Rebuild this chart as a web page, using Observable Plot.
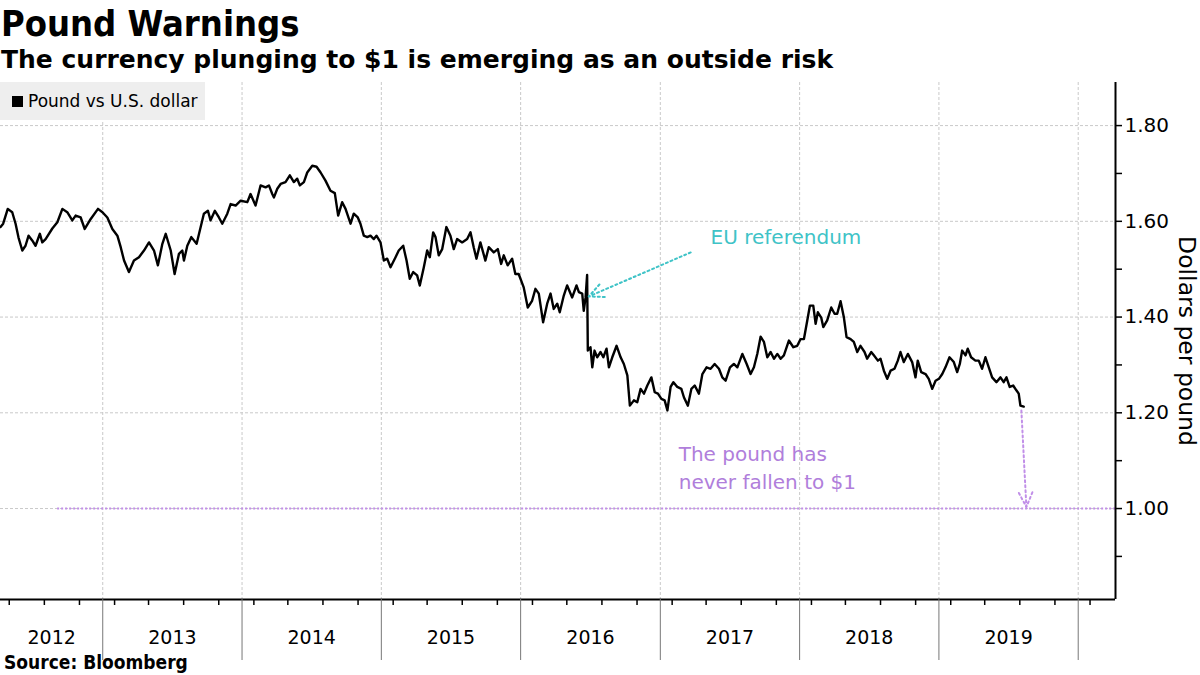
<!DOCTYPE html>
<html><head><meta charset="utf-8">
<script src="https://cdn.jsdelivr.net/npm/d3@7"></script>
<script src="https://cdn.jsdelivr.net/npm/@observablehq/plot@0.6"></script>
<style>
html,body{margin:0;padding:0;background:#fff}
body{width:1200px;height:675px;overflow:hidden;position:relative;font-family:"DejaVu Sans",sans-serif;color:#000}
#title{position:absolute;left:1px;top:6px;font-weight:bold;font-size:36px;line-height:36px;font-family:"DejaVu Sans Condensed","DejaVu Sans",sans-serif;font-stretch:condensed;white-space:nowrap}
#subtitle{position:absolute;left:1px;top:47px;font-weight:bold;font-size:25px;line-height:25px;font-family:"DejaVu Sans",sans-serif;white-space:nowrap}
#chart{position:absolute;left:0;top:78px}
#legend{position:absolute;left:0;top:82px;width:205px;height:38px;background:#eeeeee;font-size:17px;line-height:38px;white-space:nowrap}
#legend .sw{position:absolute;left:12px;top:14px;width:11px;height:11px;background:#000}
#legend .lb{position:absolute;left:28px;top:0}
#source{position:absolute;left:4px;top:653px;font-weight:bold;font-size:19px;line-height:19px;font-family:"DejaVu Sans Condensed","DejaVu Sans",sans-serif;font-stretch:condensed;white-space:nowrap}
</style></head>
<body>
<div id="title">Pound Warnings</div>
<div id="subtitle">The currency plunging to $1 is emerging as an outside risk</div>
<div id="chart"></div>
<div id="legend"><div class="sw"></div><div class="lb">Pound vs U.S. dollar</div></div>
<div id="source">Source: Bloomberg</div>
<script>
// ---- data (decimal year, dollars per pound) ----
const tYears = [
2012.268,2012.287,2012.320,2012.352,2012.376,2012.397,2012.424,2012.447,2012.469,2012.495,
2012.519,2012.550,2012.567,2012.591,2012.639,2012.675,2012.711,2012.746,2012.782,2012.806,
2012.842,2012.871,2012.914,2012.966,2012.998,2013.033,2013.069,2013.105,2013.129,2013.153,
2013.188,2013.224,2013.260,2013.296,2013.332,2013.368,2013.396,2013.428,2013.452,2013.488,
2013.516,2013.547,2013.571,2013.583,2013.607,2013.636,2013.674,2013.703,2013.726,2013.755,
2013.774,2013.805,2013.834,2013.858,2013.894,2013.918,2013.954,2013.990,2014.038,2014.061,
2014.097,2014.133,2014.169,2014.193,2014.217,2014.229,2014.253,2014.277,2014.312,2014.343,
2014.372,2014.396,2014.415,2014.444,2014.468,2014.504,2014.535,2014.564,2014.599,2014.635,
2014.666,2014.690,2014.719,2014.743,2014.779,2014.802,2014.831,2014.850,2014.874,2014.899,
2014.922,2014.946,2014.965,2014.994,2015.018,2015.042,2015.066,2015.102,2015.125,2015.157,
2015.181,2015.204,2015.229,2015.257,2015.276,2015.305,2015.329,2015.348,2015.372,2015.389,
2015.412,2015.437,2015.467,2015.496,2015.520,2015.544,2015.580,2015.616,2015.640,2015.663,
2015.683,2015.711,2015.747,2015.771,2015.807,2015.836,2015.860,2015.879,2015.907,2015.939,
2015.962,2015.986,2016.022,2016.051,2016.082,2016.106,2016.130,2016.161,2016.190,2016.214,
2016.237,2016.262,2016.280,2016.309,2016.333,2016.369,2016.400,2016.417,2016.441,2016.452,
2016.465,2016.476,2016.481,2016.500,2016.513,2016.529,2016.548,2016.572,2016.592,2016.615,
2016.632,2016.656,2016.687,2016.716,2016.739,2016.764,2016.782,2016.811,2016.835,2016.859,
2016.883,2016.907,2016.936,2016.960,2016.983,2017.008,2017.031,2017.051,2017.074,2017.094,
2017.122,2017.151,2017.170,2017.198,2017.223,2017.247,2017.277,2017.302,2017.332,2017.361,
2017.390,2017.421,2017.445,2017.469,2017.500,2017.528,2017.553,2017.589,2017.620,2017.648,
2017.672,2017.696,2017.720,2017.744,2017.768,2017.792,2017.816,2017.840,2017.864,2017.887,
2017.923,2017.955,2017.983,2018.007,2018.031,2018.055,2018.074,2018.098,2018.115,2018.131,
2018.155,2018.170,2018.198,2018.227,2018.251,2018.270,2018.294,2018.318,2018.337,2018.366,
2018.389,2018.414,2018.437,2018.466,2018.485,2018.514,2018.533,2018.562,2018.581,2018.605,
2018.629,2018.653,2018.681,2018.705,2018.724,2018.748,2018.777,2018.808,2018.832,2018.848,
2018.873,2018.904,2018.927,2018.952,2018.976,2019.000,2019.024,2019.047,2019.076,2019.107,
2019.131,2019.150,2019.167,2019.191,2019.207,2019.231,2019.262,2019.286,2019.310,2019.334,
2019.358,2019.382,2019.413,2019.442,2019.465,2019.485,2019.508,2019.533,2019.556,2019.573,
2019.585,2019.609
];
const gbpUsd = [
1.588,1.595,1.626,1.619,1.595,1.566,1.539,1.549,1.570,1.560,
1.549,1.574,1.556,1.563,1.585,1.598,1.626,1.619,1.602,1.612,
1.608,1.584,1.605,1.626,1.619,1.608,1.584,1.570,1.546,1.518,
1.494,1.518,1.525,1.539,1.556,1.539,1.508,1.553,1.574,1.539,
1.490,1.532,1.539,1.518,1.549,1.567,1.553,1.588,1.616,1.622,
1.602,1.622,1.608,1.595,1.616,1.636,1.633,1.643,1.640,1.657,
1.633,1.675,1.671,1.675,1.657,1.650,1.668,1.678,1.682,1.696,
1.682,1.689,1.675,1.682,1.702,1.716,1.714,1.702,1.685,1.664,
1.659,1.612,1.640,1.626,1.595,1.616,1.608,1.595,1.570,1.567,
1.570,1.563,1.570,1.556,1.518,1.522,1.504,1.525,1.539,1.549,
1.518,1.480,1.494,1.487,1.466,1.504,1.539,1.525,1.577,1.567,
1.529,1.542,1.588,1.570,1.542,1.563,1.556,1.563,1.577,1.546,
1.522,1.556,1.518,1.546,1.535,1.542,1.511,1.529,1.508,1.522,
1.490,1.490,1.462,1.420,1.434,1.459,1.449,1.389,1.428,1.449,
1.417,1.428,1.410,1.445,1.466,1.441,1.466,1.452,1.449,1.413,
1.441,1.488,1.330,1.337,1.295,1.330,1.316,1.327,1.316,1.334,
1.295,1.316,1.340,1.316,1.302,1.278,1.215,1.226,1.222,1.250,
1.240,1.257,1.274,1.243,1.240,1.229,1.226,1.205,1.254,1.264,
1.254,1.250,1.232,1.215,1.250,1.257,1.240,1.281,1.295,1.292,
1.302,1.292,1.274,1.267,1.295,1.302,1.295,1.323,1.302,1.281,
1.295,1.323,1.359,1.348,1.316,1.327,1.313,1.323,1.313,1.320,
1.351,1.337,1.340,1.354,1.354,1.393,1.424,1.424,1.386,1.410,
1.399,1.379,1.393,1.420,1.407,1.407,1.433,1.399,1.358,1.354,
1.348,1.327,1.340,1.327,1.313,1.327,1.320,1.309,1.313,1.288,
1.271,1.288,1.292,1.309,1.327,1.306,1.323,1.306,1.274,1.309,
1.285,1.281,1.271,1.250,1.267,1.271,1.281,1.295,1.316,1.306,
1.285,1.302,1.330,1.320,1.334,1.316,1.309,1.309,1.292,1.316,
1.295,1.274,1.264,1.274,1.264,1.274,1.254,1.257,1.247,1.240,
1.215,1.213
];
const yearLabels = [2012,2013,2014,2015,2016,2017,2018,2019];
const yTickLabels = [1.00,1.20,1.40,1.60,1.80];
const yMinorTicks = [0.90,1.10,1.30,1.50,1.70];
const xDomainYears = [2012.268, 2020.267];
const yDomain = [0.81, 1.89];
// annotations (decimal year, value)
const euText = {t: 2017.361, v: 1.566, label: "EU referendum"};
const euArrow = {t1: 2017.218, v1: 1.535, t2: 2016.488, v2: 1.443};
const parityText = {t: 2017.132, v: 1.088, label: "The pound has\nnever fallen to $1"};
const parityArrow = {t1: 2019.592, v1: 1.205, t2: 2019.628, v2: 1.003};
const parityLine = {t1: 2012.677, v: 1.00};

// ---- helpers ----
function yd(t){const y=Math.floor(t);const s=Date.UTC(y,0,1),e=Date.UTC(y+1,0,1);return new Date(s+(t-y)*(e-s));}
const series = tYears.map((t,i)=>({date: yd(t), value: gbpUsd[i]}));
const x0 = yd(xDomainYears[0]), x1 = yd(xDomainYears[1]);
const yearStarts = d3.utcYears(x0, x1).filter(d=>d>x0);
const quarterTicks = d3.utcMonths(x0, x1, 3).filter(d=>d.getUTCMonth()!==0 && d>x0);
const labelPos = yearLabels.map(y=>{
  const a = new Date(Math.max(Date.UTC(y,0,1), +x0));
  const b = new Date(Math.min(Date.UTC(y+1,0,1), +x1));
  return {date: new Date((+a + +b)/2), label: String(y)};
});

const cyan = "#3fc3c7";
const violetText = "#b07edb";
const violetLine = "#c18fe8";
const grid = "#c9c9c9";

const chart = Plot.plot({
  width: 1200,
  height: 582,
  marginTop: 4,
  marginLeft: 0,
  marginRight: 85,
  marginBottom: 61,
  style: {fontFamily: "DejaVu Sans, sans-serif", background: "transparent", overflow: "visible"},
  x: {type: "utc", domain: [x0, x1], axis: null},
  y: {domain: yDomain, axis: null},
  marks: [
    // gridlines
    Plot.ruleY(yTickLabels, {stroke: grid, strokeWidth: 1, strokeDasharray: "3,2"}),
    Plot.ruleX(yearStarts, {stroke: grid, strokeWidth: 1, strokeDasharray: "3,2"}),
    // $1 reference line
    Plot.ruleY([parityLine.v], {x1: yd(parityLine.t1), x2: x1, stroke: violetLine, strokeWidth: 2, strokeDasharray: "2,2"}),
    // bottom axis line & right axis line
    Plot.ruleY([yDomain[0]], {stroke: "#000", strokeWidth: 2}),
    Plot.ruleX([x1], {stroke: "#000", strokeWidth: 2}),
    // x ticks (no text)
    Plot.axisX({ticks: quarterTicks, tickSize: 6, fill: "none", label: null, stroke: "#000", strokeWidth: 1.5}),
    Plot.axisX({ticks: yearStarts, tickSize: 61, fill: "none", label: null, stroke: "#777", strokeWidth: 1}),
    // year labels (no tick)
    Plot.axisX({ticks: labelPos.map(d=>d.date), tickSize: 0, tickPadding: 31, label: null,
      tickFormat: d => labelPos.find(p => +p.date === +d).label, fontSize: 19, fill: "#000"}),
    // y ticks & labels
    Plot.axisY({anchor: "right", ticks: yTickLabels, tickSize: 6, tickPadding: 3, label: null,
      tickFormat: d3.format(".2f"), fontSize: 20, stroke: "#000", strokeWidth: 1.5, fill: "#000"}),
    Plot.axisY({anchor: "right", ticks: yMinorTicks, tickSize: 6, fill: "none", label: null, stroke: "#000", strokeWidth: 1.5}),
    Plot.text(["Dollars per pound"], {frameAnchor: "right", textAnchor: "middle", dx: 71, rotate: 90, fontSize: 23.5, fill: "#000"}),
    // series
    Plot.lineY(series, {x: "date", y: "value", stroke: "#000", strokeWidth: 2.4, strokeLinejoin: "round"}),
    // annotations
    Plot.arrow([euArrow], {x1: d=>yd(d.t1), y1: "v1", x2: d=>yd(d.t2), y2: "v2",
      stroke: cyan, strokeWidth: 2, strokeDasharray: "2,3", headLength: 12, headAngle: 50, bend: 0}),
    Plot.text([euText], {x: d=>yd(d.t), y: "v", text: "label", textAnchor: "start", fontSize: 20, fill: cyan}),
    Plot.arrow([parityArrow], {x1: d=>yd(d.t1), y1: "v1", x2: d=>yd(d.t2), y2: "v2",
      stroke: violetLine, strokeWidth: 2, strokeDasharray: "2,3", headLength: 12, headAngle: 50, bend: 0}),
    Plot.text([parityText], {x: d=>yd(d.t), y: "v", text: "label", textAnchor: "start", fontSize: 20, lineHeight: 1.4, fill: violetText})
  ]
});
document.getElementById("chart").appendChild(chart);
</script>
</body></html>
